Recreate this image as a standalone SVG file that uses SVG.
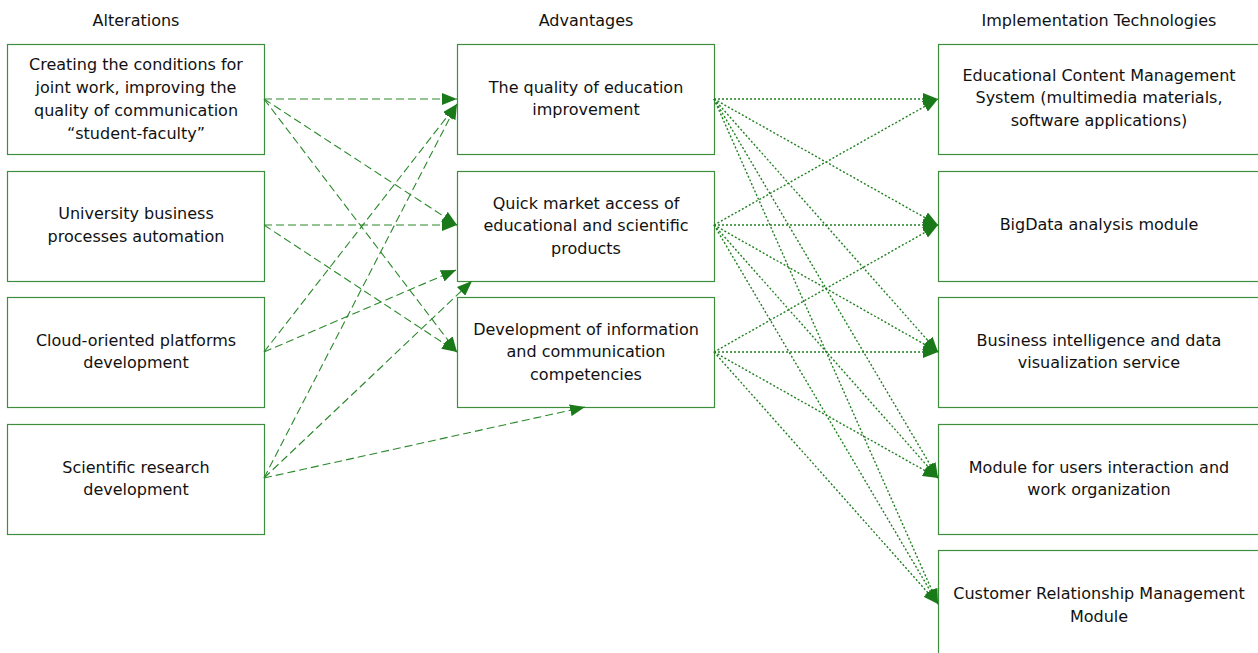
<svg xmlns="http://www.w3.org/2000/svg" width="1258" height="653" viewBox="0 0 1258 653">
<style>
.box{fill:#ffffff;stroke:#3d8f3d;stroke-width:1.2}
.t{font-family:"DejaVu Sans","Liberation Sans",Arial,sans-serif;font-size:16px;fill:#111;text-anchor:middle}
.dash{fill:none;stroke:#2a882a;stroke-width:1.1;stroke-dasharray:8 4;marker-end:url(#ah)}
.dot{fill:none;stroke:#1f801f;stroke-width:1.4;stroke-dasharray:2 2;marker-end:url(#ah)}
</style>
<defs>
<marker id="ah" markerUnits="userSpaceOnUse" markerWidth="16" markerHeight="12" refX="15" refY="6" orient="auto">
<path d="M0,0 L15,6 L0,12 z" fill="#1a7a1a"/>
</marker>
</defs>
<rect width="1258" height="653" fill="#ffffff"/>
<g id="headers">
<text class="t" x="136" y="26">Alterations</text>
<text class="t" x="586" y="26">Advantages</text>
<text class="t" x="1099" y="26">Implementation Technologies</text>
</g>
<g id="alt1"><rect class="box" x="7.5" y="44.5" width="257" height="110"/>
<text class="t" x="136" y="70">Creating the conditions for</text>
<text class="t" x="136" y="93">joint work, improving the</text>
<text class="t" x="136" y="116">quality of communication</text>
<text class="t" x="136" y="139">“student-faculty”</text></g>
<g id="alt2"><rect class="box" x="7.5" y="171.5" width="257" height="110"/>
<text class="t" x="136" y="219">University business</text>
<text class="t" x="136" y="242">processes automation</text></g>
<g id="alt3"><rect class="box" x="7.5" y="297.5" width="257" height="110"/>
<text class="t" x="136" y="346">Cloud-oriented platforms</text>
<text class="t" x="136" y="368">development</text></g>
<g id="alt4"><rect class="box" x="7.5" y="424.5" width="257" height="110"/>
<text class="t" x="136" y="473">Scientific research</text>
<text class="t" x="136" y="495">development</text></g>
<g id="adv1"><rect class="box" x="457.5" y="44.5" width="257" height="110"/>
<text class="t" x="586" y="93">The quality of education</text>
<text class="t" x="586" y="115">improvement</text></g>
<g id="adv2"><rect class="box" x="457.5" y="171.5" width="257" height="110"/>
<text class="t" x="586" y="209">Quick market access of</text>
<text class="t" x="586" y="231">educational and scientific</text>
<text class="t" x="586" y="254">products</text></g>
<g id="adv3"><rect class="box" x="457.5" y="297.5" width="257" height="110"/>
<text class="t" x="586" y="335">Development of information</text>
<text class="t" x="586" y="357">and communication</text>
<text class="t" x="586" y="380">competencies</text></g>
<g id="tech1"><rect class="box" x="938.5" y="44.5" width="322" height="110"/>
<text class="t" x="1099" y="81">Educational Content Management</text>
<text class="t" x="1099" y="103">System (multimedia materials,</text>
<text class="t" x="1099" y="126">software applications)</text></g>
<g id="tech2"><rect class="box" x="938.5" y="171.5" width="322" height="110"/>
<text class="t" x="1099" y="230">BigData analysis module</text></g>
<g id="tech3"><rect class="box" x="938.5" y="297.5" width="322" height="110"/>
<text class="t" x="1099" y="346">Business intelligence and data</text>
<text class="t" x="1099" y="368">visualization service</text></g>
<g id="tech4"><rect class="box" x="938.5" y="424.5" width="322" height="110"/>
<text class="t" x="1099" y="473">Module for users interaction and</text>
<text class="t" x="1099" y="495">work organization</text></g>
<g id="tech5"><rect class="box" x="938.5" y="550.5" width="322" height="120"/>
<text class="t" x="1099" y="599">Customer Relationship Management</text>
<text class="t" x="1099" y="622">Module</text></g>
<g id="connectors">
<path class="dash" d="M264,99 L457,99"/>
<path class="dash" d="M264,99 L457,225"/>
<path class="dash" d="M264,99 L457,352"/>
<path class="dash" d="M264,225 L457,225"/>
<path class="dash" d="M264,225 L457,352"/>
<path class="dash" d="M264,352 L457,104"/>
<path class="dash" d="M264,352 L456,270"/>
<path class="dash" d="M264,478 L457,104"/>
<path class="dash" d="M264,478 L472,281"/>
<path class="dash" d="M264,478 L585,407"/>
<path class="dot" d="M714,99 L938,99"/>
<path class="dot" d="M714,99 L938,225"/>
<path class="dot" d="M714,99 L938,352"/>
<path class="dot" d="M714,99 L938,478"/>
<path class="dot" d="M714,99 L938,604"/>
<path class="dot" d="M714,225 L938,99"/>
<path class="dot" d="M714,225 L938,225"/>
<path class="dot" d="M714,225 L938,352"/>
<path class="dot" d="M714,225 L938,478"/>
<path class="dot" d="M714,225 L938,604"/>
<path class="dot" d="M714,352 L938,225"/>
<path class="dot" d="M714,352 L938,352"/>
<path class="dot" d="M714,352 L938,478"/>
<path class="dot" d="M714,352 L938,604"/>
</g>
</svg>
